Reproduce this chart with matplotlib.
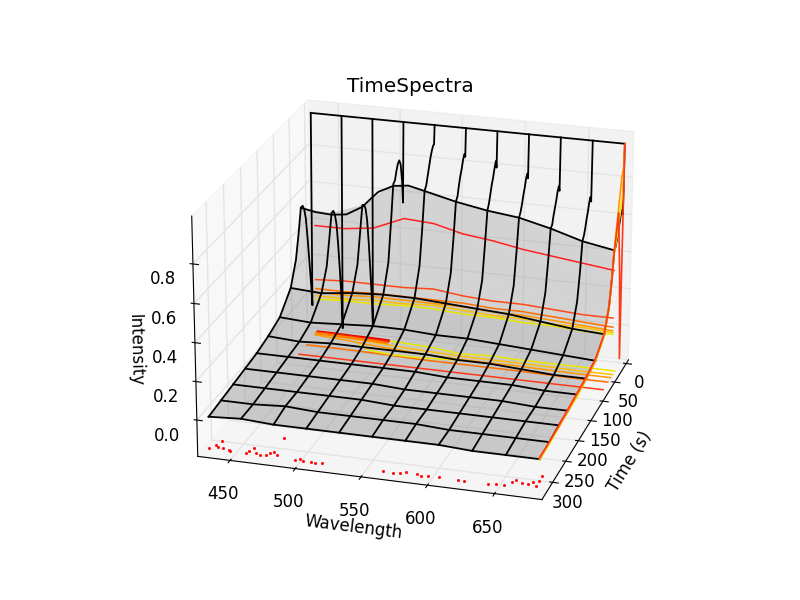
"""
Espectros resolvidos no tempo: superficie 3D com projecoes nas paredes.
"""
import matplotlib
matplotlib.use('Agg')
import matplotlib.pyplot as plt
import numpy as np
from mpl_toolkits.mplot3d import Axes3D  # noqa

plt.rcParams['font.family'] = 'DejaVu Sans'
plt.rcParams['grid.color'] = '#e4e4e4'
plt.rcParams['grid.linewidth'] = 1.0

wavelengths = [430, 455, 480, 505, 530, 555, 580, 605, 630, 655, 680]
times = [0, 2, 5, 10, 15, 20, 25, 30, 36, 44, 54, 72, 108, 145, 181, 217, 253, 289, 325]
grid_times = [0, 72, 108, 145, 181, 217, 253, 289, 325]

intensity = [
    [.99, .99, .99, .99, .99, .99, .99, .99, .99, .99, .99],
    [-.06, -.17, -.14, .56, .89, .84, .80, .76, .71, .67, .62],
    [.05, .00, .015, .68, .89, .86, .84, .79, .74, .70, .65],
    [.19, .17, .19, .78, .87, .84, .81, .77, .72, .68, .64],
    [.33, .32, .35, .81, .84, .80, .77, .73, .68, .64, .60],
    [.45, .44, .48, .80, .80, .77, .74, .70, .65, .61, .57],
    [.51, .50, .55, .77, .76, .73, .70, .66, .62, .57, .53],
    [.54, .53, .58, .73, .72, .68, .66, .63, .58, .54, .50],
    [.54, .53, .59, .72, .70, .66, .63, .61, .57, .52, .49],
    [.42, .41, .46, .54, .52, .49, .47, .45, .42, .37, .35],
    [.29, .27, .30, .33, .33, .31, .29, .28, .26, .23, .22],
    [.17, .16, .18, .19, .19, .18, .17, .16, .14, .12, .11],
    [.08, .07, .08, .09, .09, .08, .08, .07, .06, .05, .04],
    [.05, .04, .05, .05, .05, .05, .04, .04, .03, .02, .02],
    [.03, .03, .03, .03, .03, .03, .02, .02, .02, .01, .01],
    [.02, .02, .02, .02, .02, .01, .01, .01, .01, .00, .00],
    [.01, .01, .01, .01, .01, .00, .00, .00, .00, .00, .00],
    [.00, .00, .01, .00, .00, .00, .00, -.01, -.01, -.01, -.01],
    [-.01, .00, -.01, -.01, -.01, -.01, -.01, -.01, -.02, -.02, -.02],
]

# crista com mais pontos, por ser a linha mais visivel
ridge_wl = [430, 442, 455, 467, 480, 487, 493, 505, 517, 530, 555, 580, 605, 630, 655, 680]
ridge_values = [.54, .525, .52, .53, .58, .63, .67, .71, .72, .70, .66, .63, .61, .57, .52, .49]

# projecoes na parede do fundo (tempo minimo)
wall_wl = [430, 454, 478, 503, 527, 551, 575, 600, 624, 648, 672]
wall_colors = ['#ff2020', '#ff4818', '#ff7000', '#ff9800', '#ffc000', '#e8e800']
wall_values = [
    [.36, .36, .38, .45, .44, .40, .38, .35, .33, .31, .29],
    [.06, .07, .07, .07, .08, .06, .05, .05, .04, .03, .03],
    [.01, .01, .02, .02, .02, .02, .01, .01, .00, -.01, -.02],
    [-.01, -.01, .00, .00, .00, .00, -.01, -.01, -.02, -.03, -.04],
    [-.03, -.03, -.02, -.02, -.01, -.02, -.03, -.03, -.04, -.04, -.05],
    [-.05, -.04, -.04, -.03, -.03, -.04, -.04, -.05, -.05, -.06, -.06],
]

# projecoes no chao
floor_wl = [436, 460, 484, 508, 532, 556, 580, 605, 630, 655, 680]
floor_colors = ['#e8e800', '#ffc000', '#ff9800', '#ff7000', '#ff3818']
floor_times = [
    [10, 10, 11, 13, 16, 24, 20, 22, 22, 22, 22],
    [14, 16, 20, 24, 27, 30, 30, 30, 31, 32, 32],
    [18, 22, 28, 32, 36, 38, 38, 38, 39, 40, 40],
    [46, 46, 47, 48, 50, 50, 50, 50, 51, 52, 52],
    [72, 72, 72, 72, 72, 72, 72, 72, 72, 72, 72],
]

# faixa densa do chao, a esquerda
band_wl = [436, 450, 465, 480, 495]
band_colors = ['#e00000', '#ff2000', '#ff8000']
band_times = [
    [9, 9, 10, 10, 11],
    [11, 11, 12, 13, 14],
    [13, 14, 15, 16, 18],
]
loop_wl = [476, 482, 487, 505, 525, 560]
loop_times = [30, 37, 42, 46, 46, 40]

# projecoes na parede direita (comprimento de onda maximo)
side_times = [325, 289, 253, 217, 181, 145, 108, 72, 54, 44, 36, 20, 10, 3, 0]
side_red = [-.01, -.01, .00, .01, .02, .03, .05, .11, .22, .35, .48, .66, .30, -.16, .99]
side_orange = [-.02, -.01, -.01, .00, .01, .02, .04, .12, .23, .36, .50, .70, .83, .87, .99]
side_yellow = [-.02, -.02, -.01, .00, .00, .02, .04, .10, .21, .34, .47, .58, .68, .74, .94]

floor_dots_wl = [428, 431, 433, 443, 445, 434, 438, 457, 458, 460, 464, 468, 472, 474, 476, 480,
                 475, 495, 498, 501, 507, 511, 516, 562, 570, 575, 579, 587, 596, 591, 604, 619,
                 623, 641, 647, 653, 657, 659, 664, 669, 675, 671, 675, 675]
floor_dots_t = [318, 311, 299, 317, 320, 314, 314, 320, 314, 307, 316, 321, 319, 313, 309, 315,
                276, 322, 318, 321, 321, 322, 321, 321, 323, 321, 318, 318, 320, 321, 320, 321,
                320, 320, 319, 319, 311, 305, 309, 310, 312, 304, 301, 290]

x_lim = (425, 685)
y_lim = (340, -10)
z_lim = (-0.19, 1.04)

fig = plt.figure(figsize=(8, 6), dpi=100)
ax = fig.add_axes([0.129, 0.104, 0.775, 0.8], projection='3d', computed_zorder=False)
ax.set_box_aspect((3.93, 4, 2.84), zoom=1.13)
ax.set_proj_type('persp', focal_length=1.4)
ax.view_init(elev=22, azim=-73.5)

wl = np.array(wavelengths, dtype=float)
tt = np.array(times, dtype=float)
zz = np.array(intensity)
X, Y = np.meshgrid(wl, tt)

# superficie cinza apenas a partir da crista, mais clara atras
start = times.index(36)
mid = times.index(72)
ax.plot_surface(X[start:mid + 1], Y[start:mid + 1], zz[start:mid + 1], rstride=1, cstride=1,
                color='#808080', alpha=0.27, shade=False, linewidth=0, zorder=1)
ax.plot_surface(X[mid:], Y[mid:], zz[mid:], rstride=1, cstride=1,
                color='#808080', alpha=0.38, shade=False, linewidth=0, zorder=1)

for cor, valores in zip(wall_colors, wall_values):
    ax.plot(wall_wl, np.full(len(wall_wl), y_lim[1]), valores, color=cor, lw=1.1, zorder=2)
for cor, tempos in zip(floor_colors, floor_times):
    ax.plot(floor_wl, tempos, np.full(len(floor_wl), z_lim[0]), color=cor, lw=1.1, zorder=2)
for cor, tempos in zip(band_colors, band_times):
    ax.plot(band_wl, tempos, np.full(len(band_wl), z_lim[0]), color=cor, lw=1.8, zorder=2)
ax.plot(loop_wl, loop_times, np.full(len(loop_wl), z_lim[0]), color='#e8e800', lw=1.1, zorder=2)
ax.plot(floor_dots_wl, floor_dots_t, np.full(len(floor_dots_t), z_lim[0]), ls='none',
        marker='s', ms=1.0, color='#ff0000', zorder=2)

# linhas da grade
for i in range(zz.shape[1]):
    ax.plot(X[:, i], Y[:, i], zz[:, i], color='black', lw=1.3, zorder=3)
for t in grid_times:
    i = times.index(t)
    ax.plot(X[i], Y[i], zz[i], color='black', lw=1.3, zorder=3)
ax.plot(ridge_wl, np.full(len(ridge_wl), 36), ridge_values, color='black', lw=1.3, zorder=3)

ax.plot(np.full(len(side_times), 680), side_times, side_yellow, color='#e8e800', lw=1.2, zorder=4)
ax.plot(np.full(len(side_times), 680), side_times, side_orange, color='#ff9800', lw=1.2, zorder=4)
ax.plot(np.full(len(side_times), 680), side_times, side_red, color='#ff3818', lw=1.2, zorder=4)

ax.set_xlim(*x_lim)
ax.set_ylim(*y_lim)
ax.set_zlim(*z_lim)
ax.set_xticks([450, 500, 550, 600, 650])
ax.set_yticks([0, 50, 100, 150, 200, 250, 300])
ax.set_zticks([0.0, 0.2, 0.4, 0.6, 0.8])
ax.set_xlabel('Wavelength', fontsize=12, labelpad=2)
ax.set_ylabel('Time (s)', fontsize=12, labelpad=2)
ax.set_zlabel('Intensity', fontsize=12, labelpad=2)
ax.zaxis.set_ticks_position('upper')
ax.zaxis.set_label_position('upper')
ax.tick_params(labelsize=12)
ax.tick_params(axis='y', pad=-0.5)
ax.set_title('TimeSpectra', fontsize=14.4, x=0.495, y=0.99)

fig.savefig('out.png', dpi=100)
